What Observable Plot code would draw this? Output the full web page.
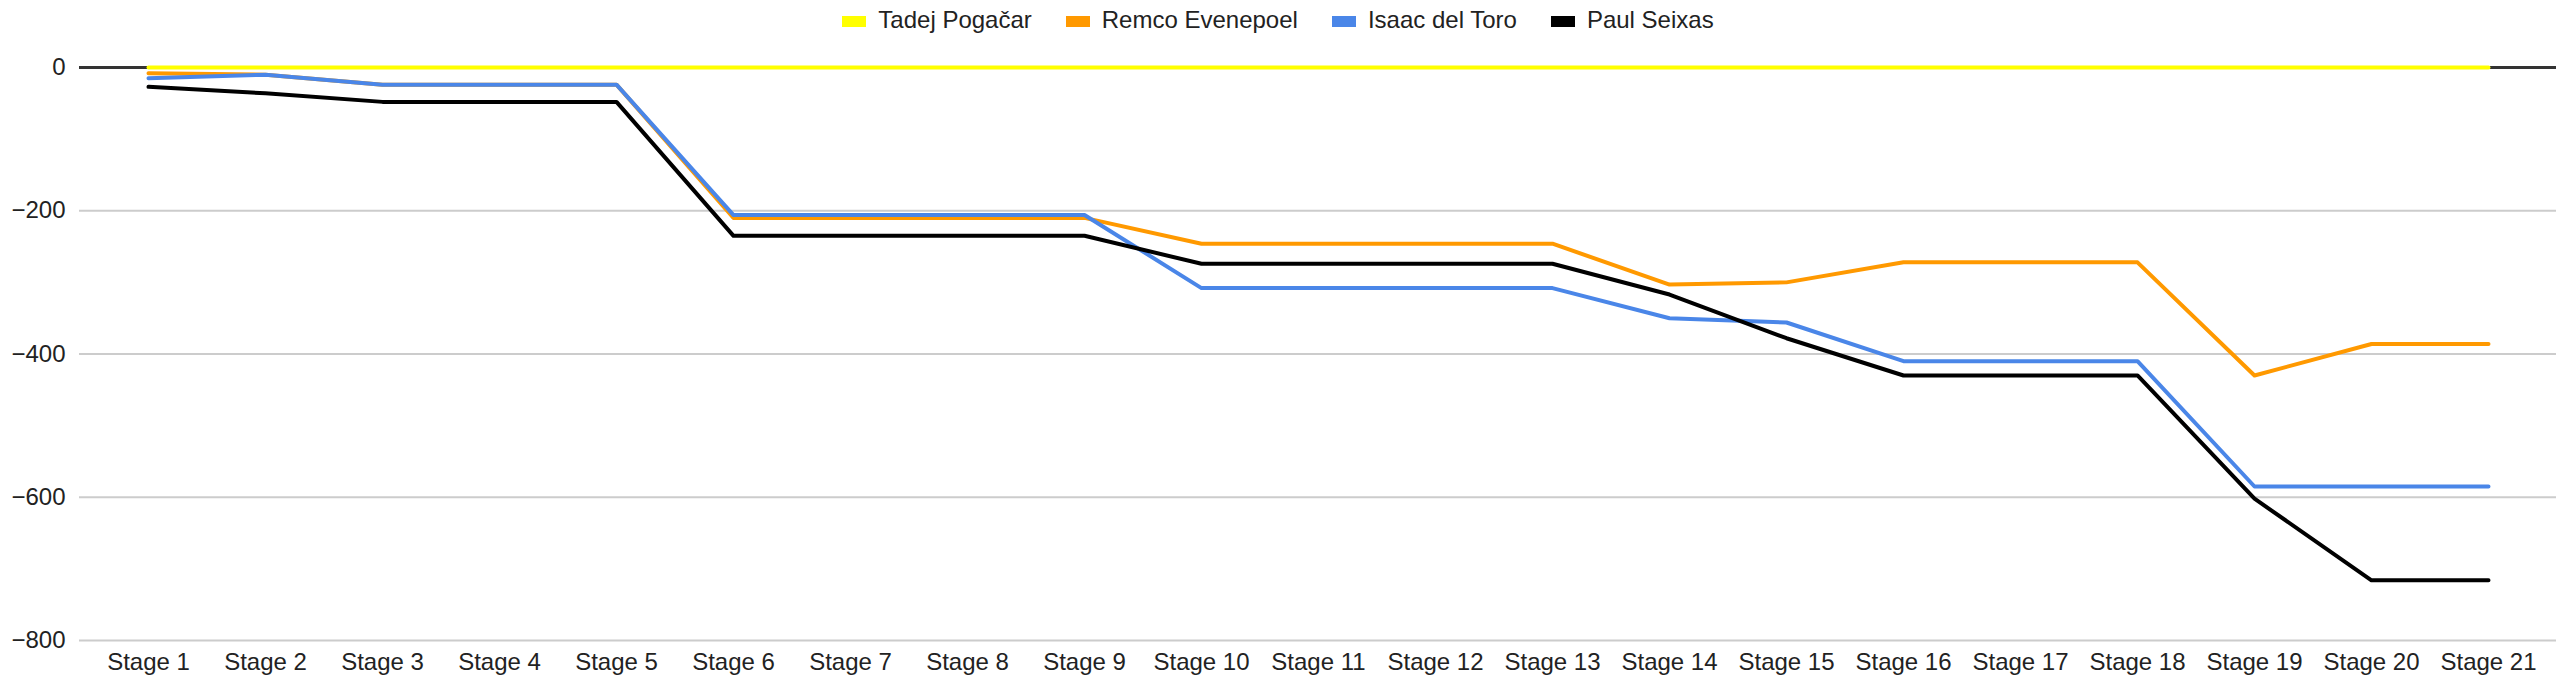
<!DOCTYPE html>
<html><head><meta charset="utf-8">
<script src="https://cdn.jsdelivr.net/npm/d3@7"></script>
<script src="https://cdn.jsdelivr.net/npm/@observablehq/plot@0.6"></script>
<style>
body{margin:0;background:#fff;font-family:"Liberation Sans",Arial,sans-serif;}
#legend{height:40px;display:flex;justify-content:center;align-items:center;gap:34px;font-size:24px;color:#222;}
#legend span.sw{display:inline-block;width:24px;height:11px;margin-right:12px;vertical-align:middle;}
</style></head><body>
<div id="legend"></div>
<div id="chart"></div>
<script>
const stages = Array.from({length:21},(_,i)=>"Stage "+(i+1));
const riders = ["Tadej Pogačar","Remco Evenepoel","Isaac del Toro","Paul Seixas"];
const colors = ["#ffff00","#ff9900","#4a86e8","#000000"];
const pogacar = Array(21).fill(0);
const evenepoel = [-8,-10,-24,-24,-24,-210,-210,-210,-210,-246,-246,-246,-246,-303,-300,-272,-272,-272,-430,-386,-386];
const delToro = [-15,-10,-24,-24,-24,-206,-206,-206,-206,-308,-308,-308,-308,-350,-356,-410,-410,-410,-585,-585,-585];
const seixas = [-27,-36,-48,-48,-48,-235,-235,-235,-235,-274,-274,-274,-274,-317,-378,-430,-430,-430,-602,-716,-716];
const yTicks = [0,-200,-400,-600,-800];
const series = [pogacar,evenepoel,delToro,seixas];
const data = [];
series.forEach((s,j)=>s.forEach((v,i)=>data.push({stage:stages[i],rider:riders[j],v})));

document.getElementById("legend").innerHTML = riders.map((r,i)=>`<span><span class="sw" style="background:${colors[i]}"></span>${r}</span>`).join("");

const chart = Plot.plot({
  width:2556, height:644,
  marginLeft:79, marginRight:0, marginTop:27, marginBottom:44,
  style:{fontFamily:"Liberation Sans, Arial, sans-serif", fontSize:"24px", color:"#222"},
  x:{type:"point", domain:stages, padding:0.5, label:null, tickSize:0, tickPadding:12},
  y:{domain:[-800,0], ticks:yTicks, label:null, tickSize:0, tickPadding:14},
  color:{domain:riders, range:colors},
  marks:[
    Plot.gridY(yTicks,{stroke:"#ccc", strokeOpacity:1, strokeWidth:2}),
    Plot.ruleY([0],{stroke:"#333", strokeWidth:3}),
    Plot.line(data,{x:"stage", y:"v", z:"rider", stroke:"rider", strokeWidth:4})
  ]
});
document.getElementById("chart").append(chart);
</script></body></html>
